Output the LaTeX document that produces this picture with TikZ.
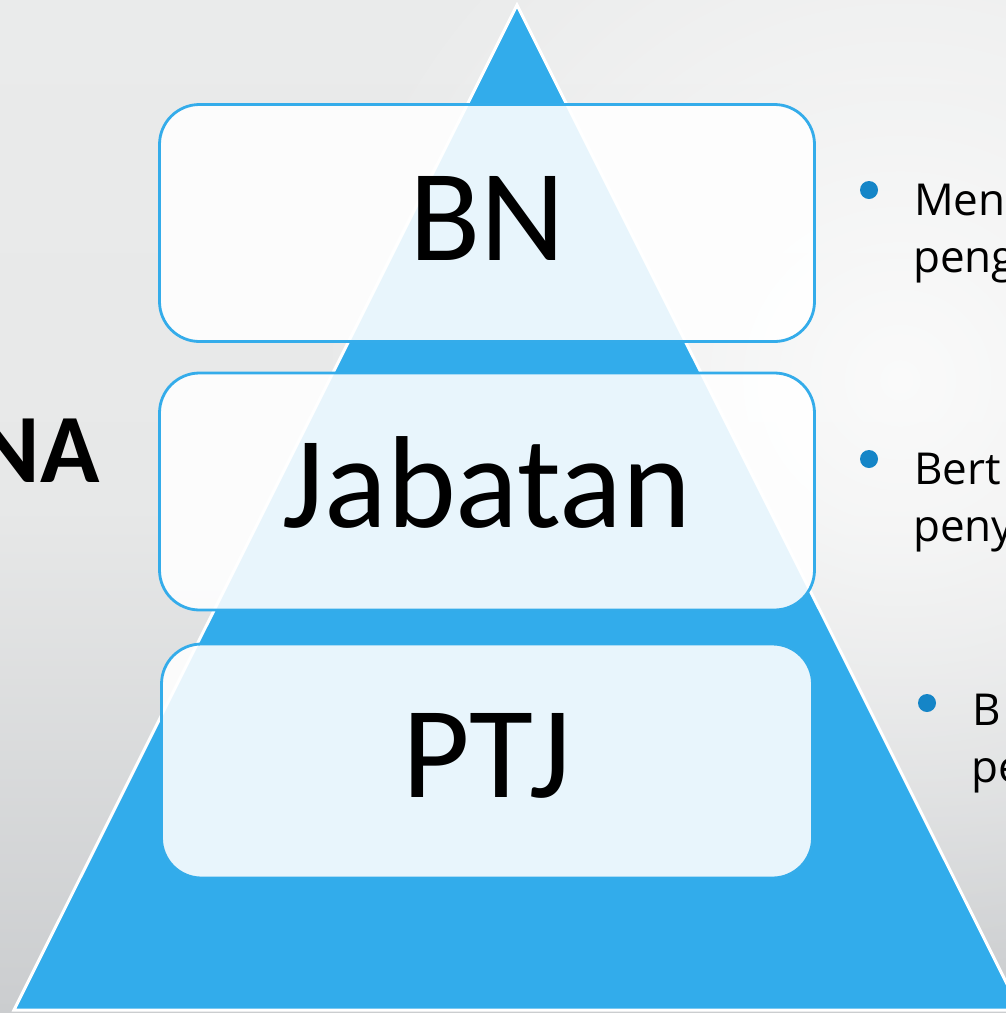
\documentclass[tikz,border=0pt]{standalone}
\usepackage{fontspec}
\setmainfont{Carlito}
\newfontfamily\sidefont{Open Sans}
\usetikzlibrary{fadings}
\tikzfading[name=glowfade, inner color=transparent!0, outer color=transparent!100]
\definecolor{triblue}{HTML}{32ACEB}
\definecolor{boxline}{HTML}{34ACEA}
\definecolor{dotblue}{HTML}{1585C7}
\definecolor{bgtop}{HTML}{EAEBEB}
\definecolor{bgmid}{HTML}{E7E8E8}
\definecolor{bgbot}{HTML}{CBCDCF}
\tikzset{
  levelbox/.style={draw=boxline, line width=2.8pt, fill=white, fill opacity=0.89,
    rounded corners=40pt, minimum width=655pt, minimum height=237pt, inner sep=0pt},
  bigtext/.style={anchor=base, font=\fontsize{131}{131}\selectfont, inner sep=0pt, text=black},
  sidetext/.style={anchor=base west, font=\sidefont\fontsize{44}{44}\selectfont, inner sep=0pt, text=black},
  bulletdot/.style={circle, fill=dotblue, minimum size=18pt, inner sep=0pt},
}
\begin{document}
\begin{tikzpicture}[x=1pt,y=-1pt]
\useasboundingbox (0,0) rectangle (1006,1013);
\clip (0,0) rectangle (1006,1013);
% background
\shade[top color=bgtop, bottom color=bgbot, middle color=bgmid] (0,0) rectangle (1006,1013);
\fill[white, opacity=0.8, path fading=glowfade] (900,380) circle (600);
% pyramid
\coordinate (apex) at (517,5);
\coordinate (bl) at (14,1010);
\coordinate (br) at (1020,1010);
\draw[white, line width=3pt, fill=triblue, line join=miter] (apex) -- (bl) -- (br) -- cycle;
% boxes
\node[levelbox] (b1) at (487,223) {};
\node[levelbox] (b2) at (487,491.5) {};
\node[levelbox, minimum width=651pt, minimum height=234pt] (b3) at (487,761) {};
\node[bigtext] (t1) at (487,260) {BN};
\node[bigtext] (t2) at (487,527) {Jabatan};
\node[bigtext] (t3) at (487,797) {PTJ};
% left label
\node[anchor=base east, font=\bfseries\fontsize{98}{98}\selectfont, inner sep=0pt] (na) at (100,482) {NA};
% right bullets
\node[bulletdot] (d1) at (869,190) {};
\node[bulletdot] (d2) at (869,459) {};
\node[bulletdot] (d3) at (927,703) {};
\node[sidetext] (r1a) at (914,215) {Men};
\node[sidetext] (r1b) at (913,272) {peng};
\node[sidetext] (r2a) at (914,484) {Bert};
\node[sidetext] (r2b) at (913,541) {peny};
\node[sidetext] (r3a) at (972,725) {B};
\node[sidetext] (r3b) at (971,782) {pe};
\end{tikzpicture}
\end{document}
